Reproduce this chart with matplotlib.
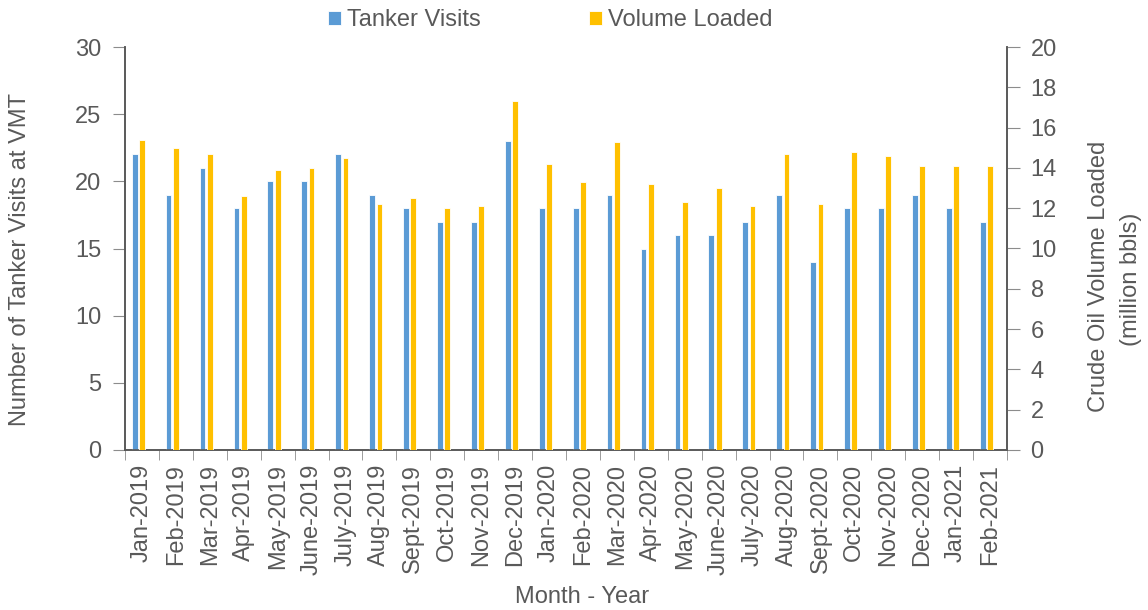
import matplotlib
matplotlib.use("Agg")
import matplotlib.pyplot as plt
import numpy as np

months = ["Jan-2019", "Feb-2019", "Mar-2019", "Apr-2019", "May-2019", "June-2019", "July-2019",
          "Aug-2019", "Sept-2019", "Oct-2019", "Nov-2019", "Dec-2019", "Jan-2020", "Feb-2020",
          "Mar-2020", "Apr-2020", "May-2020", "June-2020", "July-2020", "Aug-2020", "Sept-2020",
          "Oct-2020", "Nov-2020", "Dec-2020", "Jan-2021", "Feb-2021"]
tanker_visits = [22, 19, 21, 18, 20, 20, 22, 19, 18, 17, 17, 23, 18, 18, 19, 15, 16, 16, 17, 19,
                 14, 18, 18, 19, 18, 17]
volume_loaded = [15.4, 15.0, 14.7, 12.6, 13.9, 14.0, 14.5, 12.2, 12.5, 12.0, 12.1, 17.3, 14.2, 13.3,
                 15.3, 13.2, 12.3, 13.0, 12.1, 14.7, 12.2, 14.8, 14.6, 14.1, 14.1, 14.1]

BLUE, GOLD, INK, TICK = "#5b9bd5", "#ffc000", "#595959", "#8c8c8c"
FS = 17
plt.rcParams.update({
    "font.family": ["Liberation Sans", "DejaVu Sans"],
    "text.color": INK, "axes.labelcolor": INK, "xtick.color": INK, "ytick.color": INK,
    "axes.edgecolor": INK,
})

W, H = 1148, 610
fig = plt.figure(figsize=(W / 100, H / 100), dpi=100)
ax = fig.add_axes([125 / W, 1 - 450 / H, 882 / W, 403 / H])
ax2 = ax.twinx()

x = np.arange(len(months))
w = 0.17
ax.bar(x - 0.215, tanker_visits, width=w, color=BLUE, edgecolor="white", linewidth=0.6,
       label="Tanker Visits", zorder=3)
ax2.bar(x, volume_loaded, width=w, color=GOLD, edgecolor="white", linewidth=0.6,
        label="Volume Loaded", zorder=3)

ax.set_xlim(-0.5, len(months) - 0.5)
ax.set_ylim(0, 30)
ax2.set_ylim(0, 20)
ax.set_yticks(range(0, 31, 5))
ax2.set_yticks(range(0, 21, 2))
ax.set_xticks(x)
ax.set_xticklabels(months, rotation=90, fontsize=FS)
ax.set_xticks(np.arange(-0.5, len(months), 1), minor=True)
ax.tick_params(axis="x", which="major", length=0, pad=10)
ax.tick_params(axis="x", which="minor", length=7, direction="out", color=TICK)
ax.tick_params(axis="y", labelsize=FS, length=9, direction="out", color=TICK, pad=8)
ax2.tick_params(axis="y", labelsize=FS, length=9, direction="out", color=TICK, pad=8)

for a in (ax, ax2):
    a.spines["top"].set_visible(False)
    for s in ("left", "right", "bottom"):
        a.spines[s].set_linewidth(1.2)

# axis titles placed where they sit in the original
fig.text(20 / W, 1 - 259 / H, "Number of Tanker Visits at VMT", rotation=90,
         ha="center", va="center", fontsize=FS)
fig.text(1099 / W, 1 - 276 / H, "Crude Oil Volume Loaded", rotation=90,
         ha="center", va="center", fontsize=FS)
fig.text(1131 / W, 1 - 279 / H, "(million bbls)", rotation=90,
         ha="center", va="center", fontsize=FS)
fig.text(582 / W, 1 - 597 / H, "Month - Year", ha="center", va="center", fontsize=FS)

h1, l1 = ax.get_legend_handles_labels()
h2, l2 = ax2.get_legend_handles_labels()
fig.legend(h1 + h2, l1 + l2, loc="center", bbox_to_anchor=(550 / W, 1 - 20 / H), ncol=2,
           frameon=False, fontsize=FS,
           handlelength=0.55, handleheight=0.55, handletextpad=0.25, columnspacing=4.6,
           borderpad=0, borderaxespad=0)

fig.savefig("out.png", dpi=100)
